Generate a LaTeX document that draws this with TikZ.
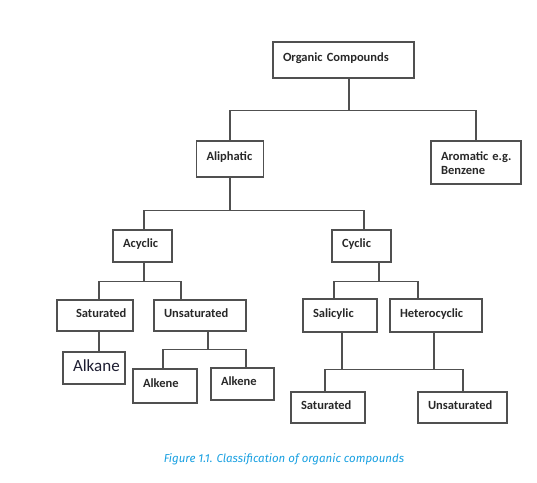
\documentclass[tikz,border=0pt]{standalone}
\usepackage{fontspec}
\setmainfont{Carlito}
\newfontfamily\capfont{Fira Sans}
\usetikzlibrary{calc}
\definecolor{boxline}{RGB}{80,80,80}
\definecolor{boxtext}{RGB}{40,40,40}
\definecolor{capblue}{RGB}{25,160,225}
\tikzset{
  box/.style={draw=boxline, line width=1.2pt, align=left, inner xsep=10pt, inner ysep=0pt,
    text depth=5pt, text=boxtext, font=\bfseries\fontsize{12.5}{14}\selectfont},
  link/.style={draw=boxline, line width=1.2pt},
}

\begin{document}
\begin{tikzpicture}[x=1pt,y=-1pt]
    \useasboundingbox (0,0) rectangle (537,482);
    % boxes
    \node[box, text width=121pt, minimum height=36pt] (org) at (343.5,60) {Organic Compounds};
    \node[box, text width=47pt, minimum height=36pt] (aliph) at (230,159) {Aliphatic};
    \node[box, text width=70pt, minimum height=43pt, text depth=13pt] (arom) at (476,162.5) {\mbox{Aromatic\hspace{4pt}e.g.}\\Benzene};
    \node[box, text width=39pt, minimum height=32pt] (acyc) at (142.5,246) {Acyclic};
    \node[box, text width=39pt, minimum height=32pt] (cyc) at (361.5,246) {Cyclic};
    \node[box, inner xsep=19pt, text width=38pt, minimum height=31pt] (sat) at (95,315.5) {\mbox{Saturated}};
    \node[box, text width=72pt, minimum height=31pt] (unsat) at (200,315.5) {Unsaturated};
    \node[box, text width=42pt, minimum height=32pt, font=\fontsize{17}{19}\selectfont,
        text={rgb,255:red,30;green,30;blue,50}] (alkane) at (94,368) {Alkane};
    \node[box, text width=44pt, minimum height=34pt] (alkeneA) at (165,386) {Alkene};
    \node[box, text width=43pt, minimum height=32pt] (alkeneB) at (242.5,384) {Alkene};
    \node[box, text width=54pt, minimum height=33pt] (salic) at (340,315.5) {Salicylic};
    \node[box, text width=72pt, minimum height=33pt] (hetero) at (436,315.5) {Heterocyclic};
    \node[box, text width=54pt, minimum height=31pt] (satB) at (328,407.5) {Saturated};
    \node[box, text width=69pt, minimum height=31pt] (unsatB) at (462.5,407.5) {Unsaturated};
    % connectors
    \draw[link] ([xshift=5.5]org.south) -- ++(0,32) coordinate (j1);
    \draw[link] (aliph.north) |- (j1) -| (arom.north);
    \draw[link] (aliph.south) -- ++(0,33) coordinate (j2);
    \draw[link] ([xshift=1.5]acyc.north) |- (j2) -| ([xshift=2.5]cyc.north);
    \draw[link] ([xshift=1.5]acyc.south) -- ++(0,19) coordinate (j3);
    \draw[link] ([xshift=4]sat.north) |- (j3) -| ([xshift=-19]unsat.north);
    \draw[link] ([xshift=17.5]cyc.south) -- ++(0,19) coordinate (j4);
    \draw[link] ([xshift=-6]salic.north) |- (j4) -| ([xshift=-18]hetero.north);
    \draw[link] ([xshift=4]sat.south) -- ([xshift=5]alkane.north);
    \draw[link] ([xshift=8]unsat.south) -- ++(0,18) coordinate (j5);
    \draw[link] ([xshift=-2]alkeneA.north) |- (j5) -| ([xshift=3.5]alkeneB.north);
    \draw[link] ([xshift=2]salic.south) -- ++(0,37) coordinate (j6);
    \coordinate (h1) at ($(hetero.south)+(-2,0)$);
    \draw[link] (h1) -- (h1 |- j6);
    \draw[link] ([xshift=-3]satB.north) |- (j6) -| ([xshift=0.5]unsatB.north);
    % caption
    \node[font=\capfont\itshape\fontsize{11.5}{13}\selectfont, text=capblue] (caption) at (284,459)
        {Figure 1.1. Classification of organic compounds};
\end{tikzpicture}
\end{document}
